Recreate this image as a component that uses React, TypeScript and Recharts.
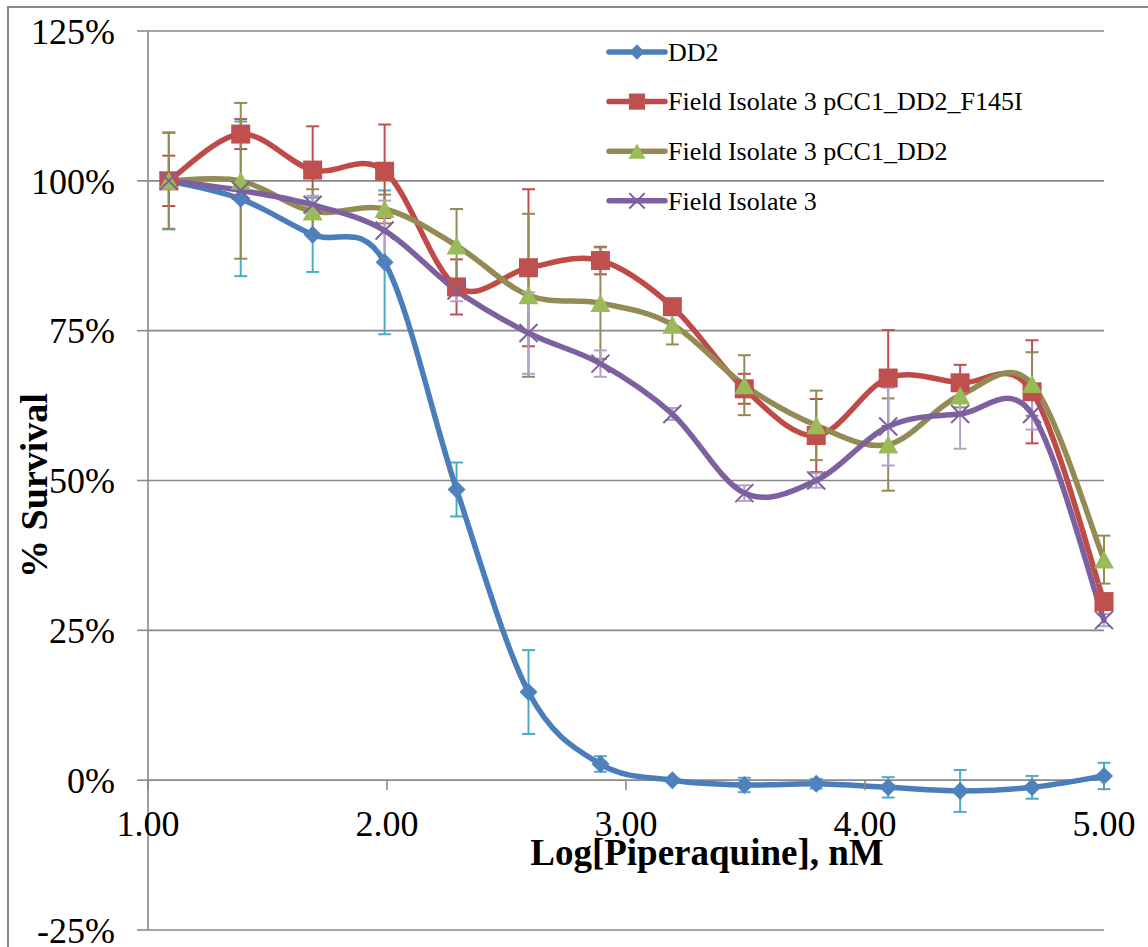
import React from "react";
import { LineChart, Line, XAxis, YAxis, CartesianGrid, ErrorBar, Legend } from "recharts";

// log10 of the piperaquine dilution series (2-fold steps down from 100 µM)
const logConc = [1.087, 1.388, 1.689, 1.99, 2.291, 2.592, 2.893, 3.194, 3.495, 3.796, 4.097, 4.398, 4.699, 5.0];

const dd2 = [100, 97.0, 91.0, 86.4, 48.5, 14.7, 2.7, 0, -0.8, -0.6, -1.2, -1.8, -1.2, 0.7];
const dd2Err = [8.1, 12.9, 6.2, 12.0, 4.5, 7.0, 1.3, 0.3, 1.2, 0.8, 1.7, 3.5, 1.9, 2.2];
const f145i = [100, 107.8, 101.8, 101.6, 82.3, 85.5, 86.7, 79.0, 65.3, 57.5, 67.1, 66.3, 64.8, 29.8];
const f145iErr = [4.2, 2.5, 7.3, 7.8, 4.6, 13.1, 2.3, 1.0, 2.5, 6.1, 8.0, 3.0, 8.6, 1.0];
const pcc1 = [100, 100, 94.9, 95.3, 89.2, 80.9, 79.6, 76.0, 65.9, 59.2, 56.0, 64.2, 66.1, 36.8];
const pcc1Err = [8.0, 13.0, 3.7, 2.4, 6.1, 13.6, 9.3, 3.3, 5.0, 5.8, 7.7, 2.0, 5.3, 4.0];
const fi3 = [100, 98.4, 96.0, 91.7, 81.7, 74.6, 69.5, 61.1, 47.9, 50.0, 59.0, 61.1, 61.1, 26.7];
const fi3Err = [1.0, 1.0, 1.5, 5.0, 1.8, 6.8, 2.2, 1.0, 1.3, 1.2, 6.5, 5.8, 2.6, 1.0];

const xTicks = [1, 2, 3, 4, 5];
const yTicks = [-25, 0, 25, 50, 75, 100, 125];

type Shape = "diamond" | "square" | "triangle" | "x";

const series: { key: string; name: string; line: string; fill: string; err: string; shape: Shape }[] = [
  { key: "dd2", name: "DD2", line: "#4A7EBB", fill: "#4F81BD", err: "#4BACC6", shape: "diamond" },
  { key: "f145i", name: "Field Isolate 3 pCC1_DD2_F145I", line: "#BE4B48", fill: "#C0504D", err: "#C0504D", shape: "square" },
  { key: "pcc1", name: "Field Isolate 3 pCC1_DD2", line: "#948A54", fill: "#9BBB59", err: "#948A54", shape: "triangle" },
  { key: "fi3", name: "Field Isolate 3", line: "#7D60A0", fill: "#7D60A0", err: "#B3A2C7", shape: "x" },
];

const data = logConc.map((x, i) => ({
  x,
  dd2: dd2[i],
  dd2Err: dd2Err[i],
  f145i: f145i[i],
  f145iErr: f145iErr[i],
  pcc1: pcc1[i],
  pcc1Err: pcc1Err[i],
  fi3: fi3[i],
  fi3Err: fi3Err[i],
}));

const FONT = '"Times New Roman", "Liberation Serif", serif';
const GRID = "#898989";
const W = 1139;
const H = 939;
const X_AXIS_H = 1;
const M = { top: 23, right: 44, bottom: 16, left: 0 };
const Y_MIN = -25;
const Y_MAX = 125;
const PLOT_H = H - M.top - M.bottom - X_AXIS_H;
const ZERO_SHIFT = (PLOT_H * (0 - Y_MIN)) / (Y_MAX - Y_MIN);

// Excel style smoothed line (Catmull-Rom as cubic beziers)
function excelSmooth(context: any) {
  let pts: number[][] = [];
  return {
    areaStart() {},
    areaEnd() {},
    lineStart() {
      pts = [];
    },
    point(x: number, y: number) {
      pts.push([+x, +y]);
    },
    lineEnd() {
      const n = pts.length;
      if (!n) return;
      context.moveTo(pts[0][0], pts[0][1]);
      for (let i = 0; i < n - 1; i++) {
        const p0 = pts[i - 1] || pts[i];
        const p1 = pts[i];
        const p2 = pts[i + 1];
        const p3 = pts[i + 2] || p2;
        context.bezierCurveTo(
          p1[0] + (p2[0] - p0[0]) / 6,
          p1[1] + (p2[1] - p0[1]) / 6,
          p2[0] - (p3[0] - p1[0]) / 6,
          p2[1] - (p3[1] - p1[1]) / 6,
          p2[0],
          p2[1]
        );
      }
    },
  };
}

function Marker({ shape, cx, cy, color, k = 1 }: { shape: Shape; cx: number; cy: number; color: string; k?: number }) {
  if (shape === "diamond") {
    const r = 9 * k;
    return <path d={`M${cx},${cy - r}L${cx + r},${cy}L${cx},${cy + r}L${cx - r},${cy}Z`} fill={color} />;
  }
  if (shape === "square") {
    const s = 9.5 * k;
    return <rect x={cx - s} y={cy - s} width={2 * s} height={2 * s} fill={color} />;
  }
  if (shape === "triangle") {
    const w = 10 * k;
    const h = 9 * k;
    return <path d={`M${cx},${cy - h}L${cx + w},${cy + h}L${cx - w},${cy + h}Z`} fill={color} />;
  }
  const h = 9 * k;
  return (
    <path
      d={`M${cx - h},${cy - h}L${cx + h},${cy + h}M${cx + h},${cy - h}L${cx - h},${cy + h}`}
      stroke={color}
      strokeWidth={2}
      fill="none"
    />
  );
}

function makeDot(shape: Shape, color: string) {
  return (p: any) => (
    <g key={`dot-${shape}-${p.index}`}>
      {p.cx != null && p.cy != null ? <Marker shape={shape} cx={p.cx} cy={p.cy} color={color} /> : null}
    </g>
  );
}

function XTick({ x, y, payload }: any) {
  const zy = y - ZERO_SHIFT;
  return (
    <g>
      <line x1={x} x2={x} y1={zy} y2={zy + 10} stroke={GRID} strokeWidth={1.6} />
      <text x={x} y={zy + 56} textAnchor="middle" fontSize={36} fontFamily={FONT} fill="#000">
        {Number(payload.value).toFixed(2)}
      </text>
    </g>
  );
}

function LegendBox() {
  return (
    <svg width={480} height={205} style={{ display: "block" }}>
      {series.map((s, i) => {
        const cy = 25 + i * 49.6;
        return (
          <g key={s.key}>
            <line x1={10} x2={66} y1={cy} y2={cy} stroke={s.line} strokeWidth={5.5} strokeLinecap="round" />
            <Marker shape={s.shape} cx={38} cy={cy} color={s.fill} k={0.85} />
            <text x={69} y={cy} dy="0.34em" fontSize={26} fontFamily={FONT} fill="#000">
              {s.name}
            </text>
          </g>
        );
      })}
    </svg>
  );
}

export default function App() {
  return (
    <div
      style={{
        position: "fixed",
        left: 7,
        top: 6,
        width: 1141,
        height: 941,
        overflow: "hidden",
        borderLeft: `2px solid ${GRID}`,
        borderTop: `2px solid ${GRID}`,
        boxSizing: "border-box",
        background: "#fff",
      }}
    >
      <LineChart width={W} height={H} data={data} margin={M}>
        <CartesianGrid vertical={false} stroke={GRID} strokeWidth={1.6} />
        <XAxis
          dataKey="x"
          type="number"
          domain={[1, 5]}
          ticks={xTicks}
          interval={0}
          height={X_AXIS_H}
          axisLine={false}
          tickLine={false}
          tickSize={0}
          tickMargin={0}
          tick={(p: any) => <XTick {...p} />}
          label={{
            content: (p: any) => (
              <text
                x={p.viewBox.x + 559}
                y={p.viewBox.y - ZERO_SHIFT + 85}
                textAnchor="middle"
                fontSize={37}
                fontWeight="bold"
                fontFamily={FONT}
                fill="#000"
              >
                Log[Piperaquine], nM
              </text>
            ),
          }}
        />
        <YAxis
          type="number"
          domain={[Y_MIN, Y_MAX]}
          ticks={yTicks}
          interval={0}
          width={139}
          axisLine={{ stroke: GRID, strokeWidth: 1.6 }}
          tickLine={{ stroke: GRID, strokeWidth: 1.6 }}
          tickSize={11}
          tickMargin={22}
          tickFormatter={(v: number) => `${v}%`}
          tick={{ fontSize: 36, fontFamily: FONT, fill: "#000" }}
          label={{
            content: (p: any) => (
              <text
                transform={`translate(38, ${p.viewBox.y + p.viewBox.height / 2 + 5}) rotate(-90)`}
                textAnchor="middle"
                fontSize={38}
                fontWeight="bold"
                fontFamily={FONT}
                fill="#000"
              >
                % Survival
              </text>
            ),
          }}
        />
        <Legend
          layout="vertical"
          align="center"
          verticalAlign="middle"
          wrapperStyle={{ left: 590, top: 19, width: 480, height: 205 }}
          content={() => <LegendBox />}
        />
        {series.map((s) => (
          <Line
            key={s.key}
            dataKey={s.key}
            name={s.name}
            type={excelSmooth as any}
            stroke={s.line}
            strokeWidth={5.5}
            strokeLinecap="round"
            strokeLinejoin="round"
            dot={makeDot(s.shape, s.fill)}
            activeDot={false}
            isAnimationActive={false}
          >
            <ErrorBar dataKey={`${s.key}Err`} direction="y" width={6.5} stroke={s.err} strokeWidth={2} />
          </Line>
        ))}
      </LineChart>
    </div>
  );
}
